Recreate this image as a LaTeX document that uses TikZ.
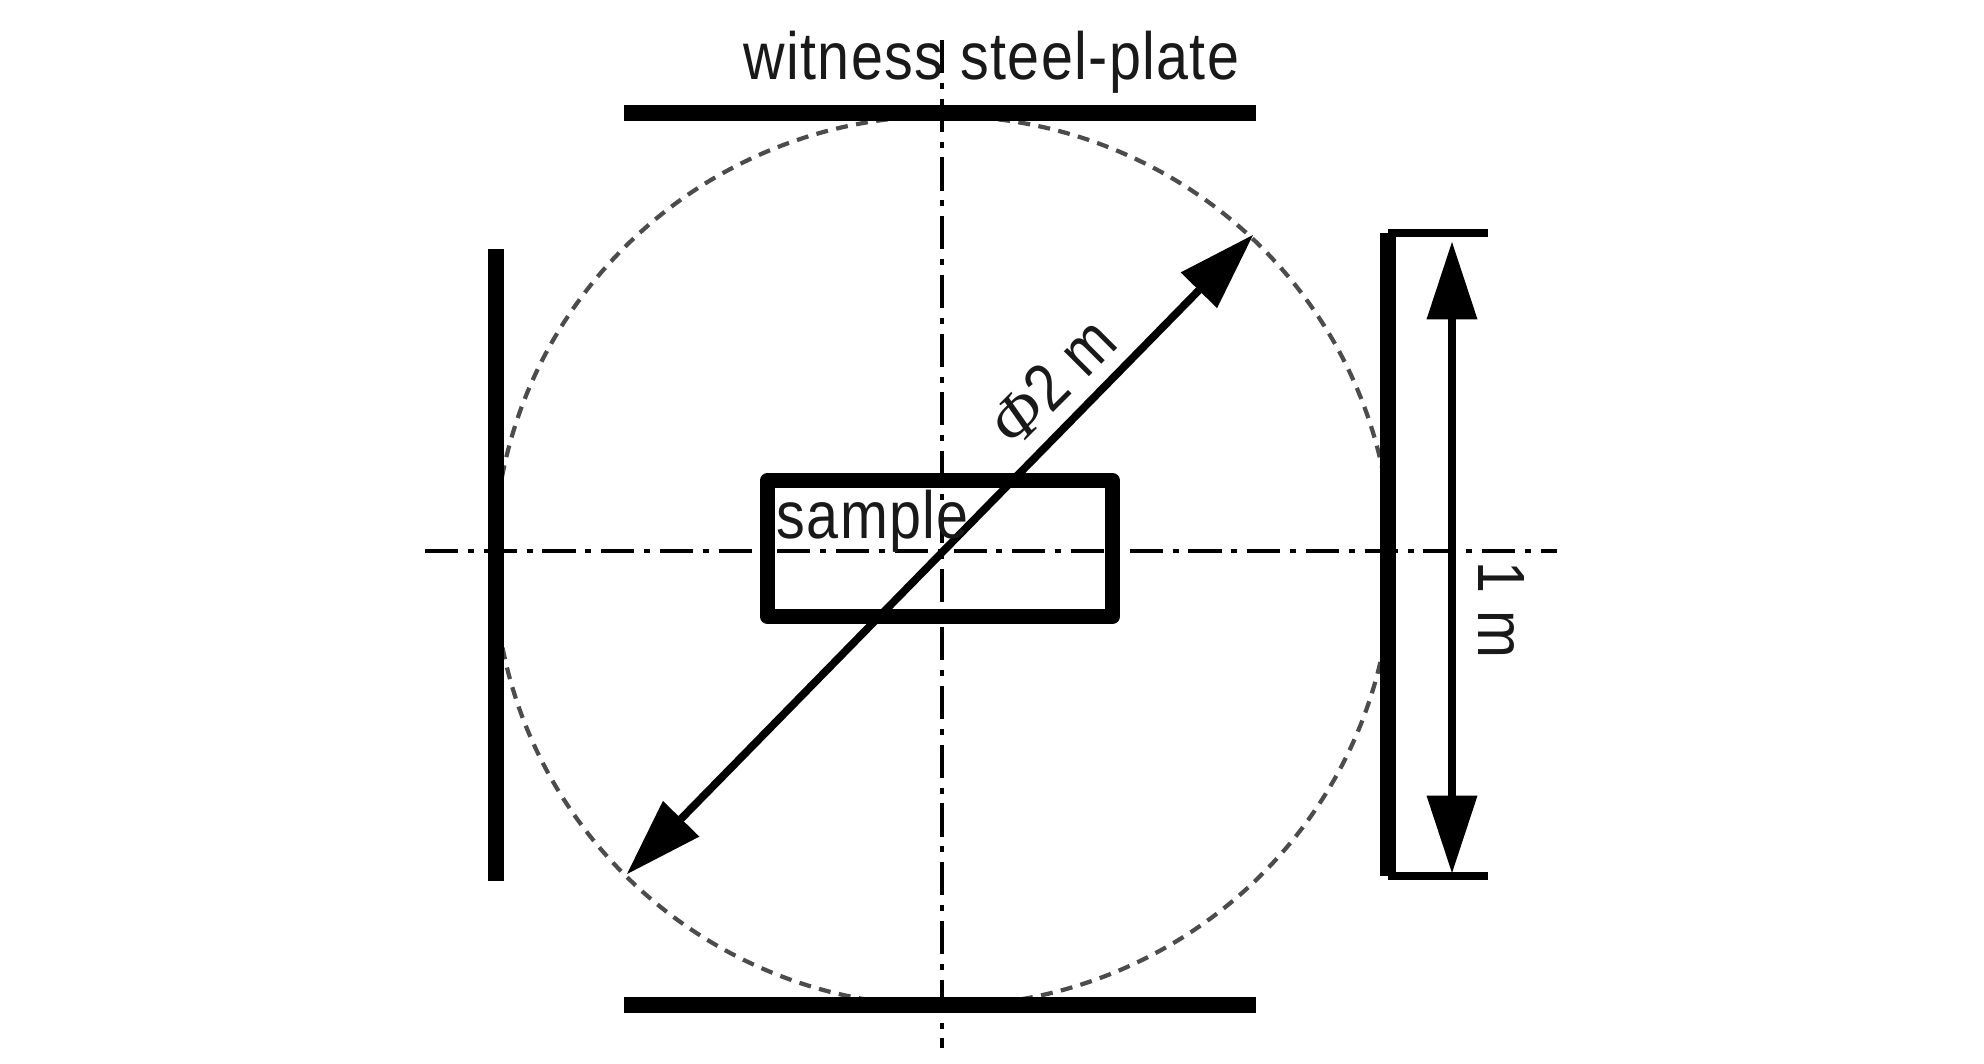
\documentclass[tikz,border=0pt]{standalone}
\usepackage{fontspec}
\usetikzlibrary{arrows.meta}
\setmainfont{Liberation Sans}[FakeStretch=0.86,LetterSpace=2]
\newfontfamily\phifont{Liberation Serif}
\tikzset{
  axisline/.style={line width=0.9pt,dash pattern=on 9.4pt off 2.8pt on 1.7pt off 2.8pt},
  plate/.style={line width=4.5pt},
  dimline/.style={line width=2.2pt,{Triangle[length=22pt,width=14.5pt,line width=0pt]}-{Triangle[length=22pt,width=14.5pt,line width=0pt]}},
  lbl/.style={inner sep=0pt,text=black!90,font=\fontsize{19}{23}\selectfont}
}
\begin{document}
\begin{tikzpicture}[x=0.01cm,y=-0.01cm]
\useasboundingbox (0,0) rectangle (1984,1063);
% circle of the test arena
\draw[line width=1.2pt,black!70,dash pattern=on 3.4pt off 2.4pt] (943,561) ellipse (449 and 445);
% centre lines
\coordinate (axtop) at (942,40);
\coordinate (axbot) at (942,1048);
\coordinate (axleft) at (425,551);
\coordinate (axright) at (1557,551);
\draw[axisline] (axtop) -- (axbot);
\draw[axisline] (axleft) -- (axright);
% plates
\coordinate (ptl) at (624,113);
\coordinate (ptr) at (1256,113);
\coordinate (pbl) at (624,1005);
\coordinate (pbr) at (1256,1005);
\coordinate (pla) at (496,249);
\coordinate (plb) at (496,881);
\coordinate (pra) at (1388,233);
\coordinate (prb) at (1388,876);
\draw[plate] (ptl) -- (ptr);
\draw[plate] (pbl) -- (pbr);
\draw[plate] (pla) -- (plb);
\draw[plate] (pra) -- (prb);
% sample
\draw[line width=4.3pt,line join=round] (767.5,480.5) rectangle (1112.5,616.5);
% diameter
\coordinate (dia1) at (1253,235);
\coordinate (dia2) at (627,874);
\draw[dimline] (dia2) -- (dia1);
% 1 m dimension
\coordinate (ext1) at (1488,233);
\coordinate (ext2) at (1488,876);
\coordinate (dim1) at (1452,242);
\coordinate (dim2) at (1452,873);
\draw[line width=2pt] (pra) -- (ext1);
\draw[line width=2pt] (prb) -- (ext2);
\draw[dimline] (dim1) -- (dim2);
% labels
\node[lbl,anchor=base west] (witness) at (743,79) {witness steel-plate};
\node[lbl,anchor=base west] (sample) at (776,538) {sample};
\node[lbl,anchor=base,rotate=45] (phi) at (1068,398) {{\phifont\itshape\char"03A6}2 m};
\node[lbl,anchor=base west,rotate=-90] (onem) at (1478,561) {1 m};
\end{tikzpicture}
\end{document}
